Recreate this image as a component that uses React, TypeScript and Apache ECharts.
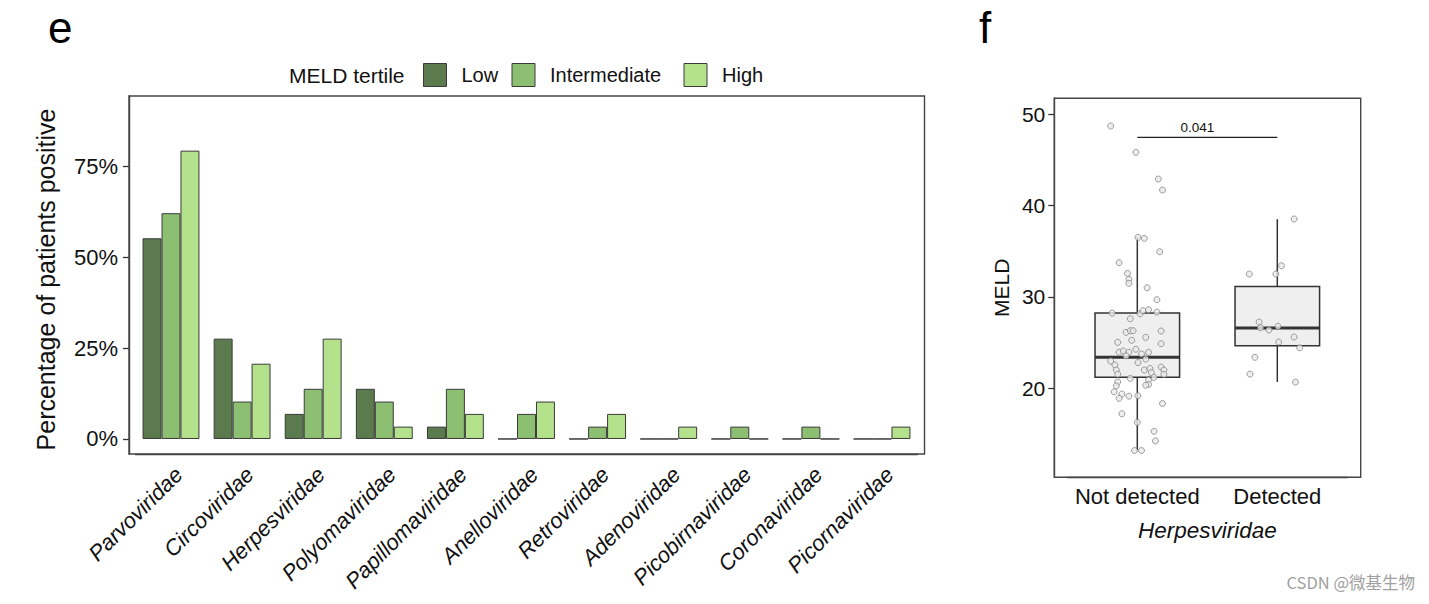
import React, { useEffect, useRef } from "react";
import * as echarts from "echarts";

// ---------- Panel e data ----------
const FAMILIES = [
  "Parvoviridae",
  "Circoviridae",
  "Herpesviridae",
  "Polyomaviridae",
  "Papillomaviridae",
  "Anelloviridae",
  "Retroviridae",
  "Adenoviridae",
  "Picobirnaviridae",
  "Coronaviridae",
  "Picornaviridae",
];
const TERTILES = ["Low", "Intermediate", "High"];
const LOW = [55.2, 27.6, 6.9, 13.8, 3.4, 0, 0, 0, 0, 0, 0];
const INTERMEDIATE = [62.1, 10.3, 13.8, 10.3, 13.8, 6.9, 3.4, 0, 3.4, 3.4, 0];
const HIGH = [79.3, 20.7, 27.6, 3.4, 6.9, 10.3, 6.9, 3.4, 0, 0, 3.4];
const PCT_TICKS = [0, 25, 50, 75];

// ---------- Panel f data ----------
const GROUPS = ["Not detected", "Detected"];
// [lower whisker, Q1, median, Q3, upper whisker]
const BOX_NOT_DETECTED = [13.2, 21.2, 23.4, 28.25, 36.5];
const BOX_DETECTED = [20.7, 24.65, 26.6, 31.15, 38.5];
const MELD_TICKS = [20, 30, 40, 50];
// [jitter offset from group centre, MELD]
const NOT_DETECTED_POINTS = [
  [-0.19, 48.69], [-0.01, 45.81], [0.15, 42.89], [0.18, 41.69], [0.005, 36.51],
  [0.05, 36.4], [0.16, 34.94], [-0.13, 33.74], [-0.07, 32.57], [-0.06, 31.92],
  [-0.06, 31.48], [0.07, 31.0], [0.14, 29.7], [-0.18, 28.23], [0.02, 28.16],
  [0.04, 28.5], [0.08, 28.6], [0.14, 28.34], [-0.05, 27.61], [-0.08, 26.12],
  [-0.05, 26.3], [-0.03, 26.3], [0.17, 26.27], [0.06, 25.57], [-0.04, 25.25],
  [-0.14, 25.03], [0.17, 24.88], [-0.13, 23.95], [-0.1, 24.08], [-0.06, 23.95],
  [-0.08, 23.55], [-0.01, 24.28], [0.03, 23.76], [0.08, 23.93], [0.06, 23.2],
  [0.005, 22.82], [-0.19, 22.98], [-0.16, 22.55], [-0.15, 22.0], [-0.14, 21.55],
  [0.05, 22.0], [0.09, 22.17], [0.1, 21.72], [0.17, 22.33], [0.19, 22.0],
  [0.19, 21.53], [0.12, 21.2], [-0.05, 21.09], [-0.14, 20.7], [-0.15, 20.27],
  [-0.165, 19.62], [0.08, 20.91], [0.08, 20.42], [0.06, 20.34], [-0.11, 19.38],
  [-0.13, 18.91], [-0.06, 19.14], [0.004, 19.2], [0.18, 18.34], [-0.11, 17.22],
  [0.0, 16.28], [0.12, 15.3], [0.13, 14.25], [-0.02, 13.2], [0.03, 13.2],
];
const DETECTED_POINTS = [
  [0.12, 38.52], [0.03, 33.41], [-0.2, 32.5], [-0.01, 32.5], [-0.13, 27.25],
  [-0.12, 26.63], [-0.06, 26.38], [0.005, 26.78], [0.12, 25.61], [0.01, 25.06],
  [0.16, 24.44], [-0.16, 23.39], [-0.195, 21.56], [0.13, 20.69],
];
const P_VALUE = "0.041";
const P_BRACKET_Y = 47.45;

const FONT = "'Liberation Sans', Arial, Helvetica, sans-serif";
const COLORS = ["#5b7b4e", "#8cbf71", "#b4e18c"];
const EDGE = "#3a3a3a";
const FRAME = "#444";

export default function App() {
  const ref = useRef<HTMLDivElement>(null);

  useEffect(() => {
    if (!ref.current) return;
    const chart = echarts.init(ref.current, null, { renderer: "svg" });

    const barSeries = [LOW, INTERMEDIATE, HIGH].map((vals, i) => ({
      name: TERTILES[i],
      type: "bar",
      xAxisIndex: 0,
      yAxisIndex: 0,
      data: vals,
      barGap: "0%",
      barCategoryGap: "20%",
      itemStyle: { color: COLORS[i], borderColor: EDGE, borderWidth: 1 },
    }));

    const legendLefts = [423, 511.5, 683.5];
    const legends = TERTILES.map((t, i) => ({
      data: [t],
      left: legendLefts[i],
      top: 63,
      padding: 0,
      itemWidth: 23,
      itemHeight: 23,
      icon: "rect",
      itemStyle: { borderColor: EDGE, borderWidth: 1 },
      textStyle: { fontFamily: FONT, fontSize: 20, color: "#111", padding: [0, 0, 0, 10] },
      selectedMode: false,
    }));

    const boxData = [BOX_NOT_DETECTED, BOX_DETECTED].map((s, i) => [i + 1, ...s]);
    const axisLine = { show: true, onZero: false, lineStyle: { color: FRAME, width: 1.4 } };
    const tickLine = { color: "#333", width: 1.3 };

    const option: any = {
      animation: false,
      textStyle: { fontFamily: FONT },
      legend: legends,
      grid: [
        { left: 135.45, top: 96, width: 782.1, height: 358 },
        { left: 1067.3, top: 98.3, width: 280, height: 379 },
      ],
      xAxis: [
        {
          type: "category",
          gridIndex: 0,
          data: FAMILIES,
          axisLine,
          axisTick: { alignWithLabel: true, length: 6, lineStyle: tickLine },
          axisLabel: {
            interval: 0,
            rotate: 45,
            margin: 9,
            fontSize: 22,
            fontStyle: "italic",
            color: "#111",
            fontFamily: FONT,
            align: "right",
            verticalAlign: "top",
          },
        },
        {
          type: "category",
          gridIndex: 1,
          data: GROUPS,
          axisLine,
          axisTick: { alignWithLabel: true, length: 6, lineStyle: tickLine },
          axisLabel: { interval: 0, fontSize: 22, color: "#111", margin: 8, fontFamily: FONT },
          name: "Herpesviridae",
          nameLocation: "middle",
          nameGap: 42,
          nameTextStyle: { fontSize: 22.5, fontStyle: "italic", color: "#111", fontFamily: FONT },
        },
        {
          type: "value",
          gridIndex: 1,
          min: 0.5,
          max: 2.5,
          show: false,
        },
      ],
      yAxis: [
        {
          type: "value",
          gridIndex: 0,
          min: -4.13,
          max: 94.33,
          offset: 6.45,
          axisLine,
          splitLine: { show: false },
          axisTick: { show: true, length: 6, customValues: PCT_TICKS, lineStyle: tickLine },
          axisLabel: {
            customValues: PCT_TICKS,
            formatter: (v: number) => `${v}%`,
            fontSize: 22,
            color: "#111",
            margin: 11,
            fontFamily: FONT,
          },
          name: "Percentage of patients positive",
          nameLocation: "middle",
          nameGap: 71,
          nameTextStyle: { fontSize: 25, color: "#111", fontFamily: FONT, padding: [0, 9, 0, 0] },
        },
        {
          type: "value",
          gridIndex: 1,
          min: 10.27,
          max: 51.72,
          offset: 13,
          axisLine,
          splitLine: { show: false },
          axisTick: { show: true, length: 6, customValues: MELD_TICKS, lineStyle: tickLine },
          axisLabel: { customValues: MELD_TICKS, fontSize: 21, color: "#111", margin: 9, fontFamily: FONT },
          name: "MELD",
          nameLocation: "middle",
          nameGap: 42,
          nameTextStyle: { fontSize: 21, color: "#111", fontFamily: FONT },
        },
      ],
      series: [
        ...barSeries,
        {
          name: "box",
          type: "custom",
          xAxisIndex: 2,
          yAxisIndex: 1,
          data: boxData,
          encode: { x: 0, y: [1, 2, 3, 4, 5] },
          z: 2,
          renderItem: (_params: any, api: any) => {
            const x = api.value(0);
            const lo = api.coord([x, api.value(1)]);
            const q1 = api.coord([x, api.value(2)]);
            const med = api.coord([x, api.value(3)]);
            const q3 = api.coord([x, api.value(4)]);
            const hi = api.coord([x, api.value(5)]);
            const half = api.size([0.302, 0])[0];
            const ls = { stroke: "#333", lineWidth: 1.5 };
            return {
              type: "group",
              children: [
                { type: "line", shape: { x1: lo[0], y1: lo[1], x2: lo[0], y2: q1[1] }, style: ls },
                { type: "line", shape: { x1: hi[0], y1: q3[1], x2: hi[0], y2: hi[1] }, style: ls },
                {
                  type: "rect",
                  shape: { x: q1[0] - half, y: q3[1], width: half * 2, height: q1[1] - q3[1] },
                  style: { fill: "#efefef", stroke: "#333", lineWidth: 1.5 },
                },
                {
                  type: "line",
                  shape: { x1: med[0] - half, y1: med[1], x2: med[0] + half, y2: med[1] },
                  style: { stroke: "#333", lineWidth: 3.2 },
                },
              ],
            };
          },
        },
        {
          name: "points",
          type: "scatter",
          xAxisIndex: 2,
          yAxisIndex: 1,
          z: 5,
          symbol: "circle",
          symbolSize: 6,
          itemStyle: { color: "#e8e8e8", borderColor: "#7a7a7a", borderWidth: 0.9 },
          data: [
            ...NOT_DETECTED_POINTS.map(([o, v]) => [1 + o, v]),
            ...DETECTED_POINTS.map(([o, v]) => [2 + o, v]),
          ],
        },
        {
          name: "signif",
          type: "custom",
          xAxisIndex: 2,
          yAxisIndex: 1,
          data: [[1, 2, P_BRACKET_Y]],
          encode: { x: [0, 1], y: 2 },
          renderItem: (_params: any, api: any) => {
            const a = api.coord([api.value(0), api.value(2)]);
            const b = api.coord([api.value(1), api.value(2)]);
            return {
              type: "group",
              children: [
                { type: "line", shape: { x1: a[0], y1: a[1], x2: b[0], y2: b[1] }, style: { stroke: "#222", lineWidth: 1.3 } },
                {
                  type: "text",
                  x: (a[0] + b[0]) / 2 - 10,
                  y: a[1] - 3,
                  style: {
                    text: P_VALUE,
                    fontSize: 13.5,
                    fontFamily: FONT,
                    fill: "#111",
                    align: "center",
                    verticalAlign: "bottom",
                  },
                },
              ],
            };
          },
        },
      ],
      graphic: [
        {
          type: "rect",
          shape: { x: 129, y: 96, width: 795.5, height: 358 },
          style: { fill: "none", stroke: FRAME, lineWidth: 1.4 },
          z: 10,
          silent: true,
        },
        {
          type: "rect",
          shape: { x: 1054.3, y: 98.3, width: 306.4, height: 379 },
          style: { fill: "none", stroke: FRAME, lineWidth: 1.4 },
          z: 10,
          silent: true,
        },
        {
          type: "text",
          x: 289,
          y: 75,
          style: { text: "MELD tertile", fontSize: 21, fontFamily: FONT, fill: "#111", verticalAlign: "middle" },
        },
        {
          type: "text",
          x: 48,
          y: 27,
          style: { text: "e", fontSize: 44, fontFamily: FONT, fill: "#000", verticalAlign: "middle" },
        },
        {
          type: "text",
          x: 979,
          y: 27,
          style: { text: "f", fontSize: 44, fontFamily: FONT, fill: "#000", verticalAlign: "middle" },
        },
        {
          type: "text",
          right: 14,
          top: 574,
          style: { text: "CSDN @微基生物", fontSize: 16.5, fontFamily: "'Noto Sans CJK SC', 'Noto Sans', sans-serif", fill: "#a0a0a0" },
        },
      ],
    };

    chart.setOption(option);
    return () => chart.dispose();
  }, []);

  return (
    <div
      ref={ref}
      style={{ position: "fixed", left: 0, top: 0, width: 1429, height: 604, background: "#fff" }}
    />
  );
}
